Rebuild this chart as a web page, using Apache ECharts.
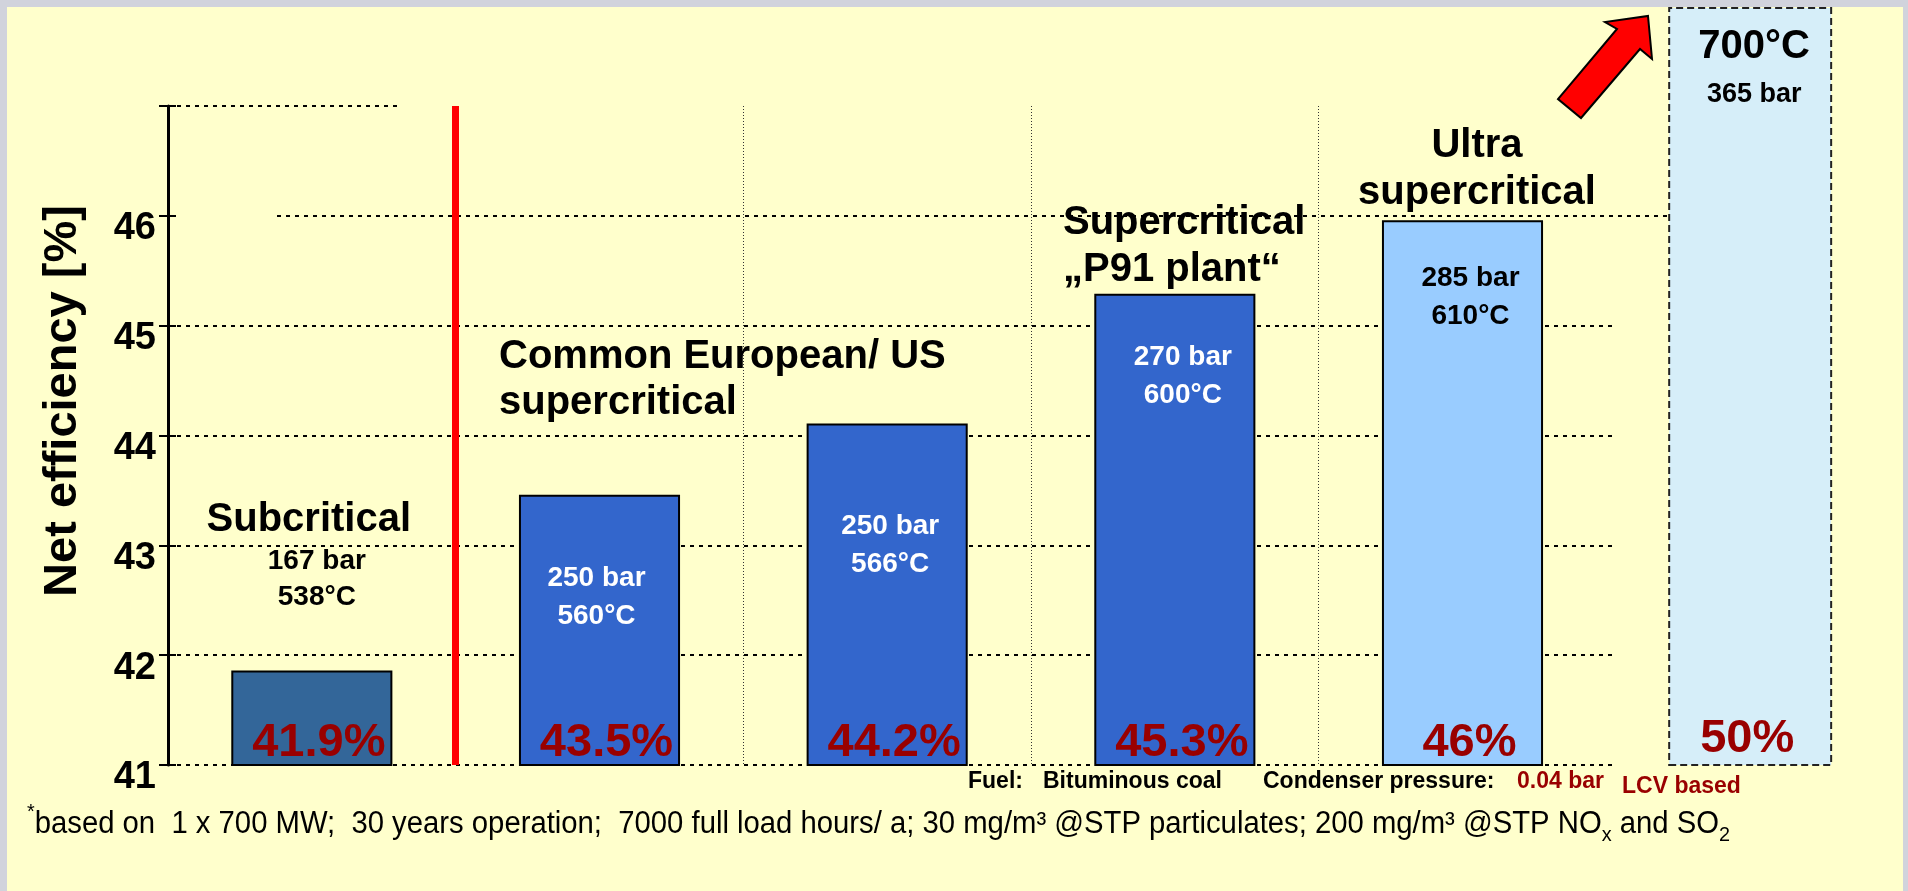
<!DOCTYPE html>
<html><head><meta charset="utf-8">
<script src="https://cdn.jsdelivr.net/npm/echarts@6/dist/echarts.min.js"></script>
<style>html,body{margin:0;padding:0;background:#FFFFCC;}#c{width:1908px;height:891px;}</style>
</head><body><div id="c"></div>
<script>
// ---------------- data ----------------
const categories = ['Subcritical', 'Common European/ US supercritical (560°C)', 'Common European/ US supercritical (566°C)', 'Supercritical „P91 plant“', 'Ultra supercritical', '700°C'];
const efficiency = [41.86, 43.46, 44.11, 45.29, 45.96, 50];
const efficiencyLabels = ['41.9%', '43.5%', '44.2%', '45.3%', '46%', '50%'];
const pressures = ['167 bar', '250 bar', '250 bar', '270 bar', '285 bar', '365 bar'];
const temperatures = ['538°C', '560°C', '566°C', '600°C', '610°C', '700°C'];
const yTicks = [41, 42, 43, 44, 45, 46, 47];
const separatorAfter = 1; // red line between subcritical and supercritical

// ---------------- styles ----------------
const F = '"Liberation Sans", Arial, sans-serif';
const barColors = ['#336699', '#3366CC', '#3366CC', '#3366CC', '#99CCFF'];
const condColors = ['#000', '#fff', '#fff', '#fff', '#000'];
const condDist = [55, 64, 84, 44, 39];
const condOffX = [5, -3, 3, 8, 8];
const DARKRED = '#990000';
const T = 'rgba(0,0,0,0)';
const DOT = {width: 2, type: [4, 5]};

const chart = echarts.init(document.getElementById('c'), null, {renderer: 'canvas'});

const barData = efficiency.map((v, i) => {
  if (i >= barColors.length) return '-';
  const item = {value: v, itemStyle: {color: barColors[i]}};
  if (i === 0) {
    item.label = {
      position: 'top', distance: condDist[i], offset: [condOffX[i], 0],
      formatter: `{t|${categories[0]}}\n{c|${pressures[0]}}\n{c|${temperatures[0]}}`,
      rich: {
        t: {fontFamily: F, fontWeight: 'bold', fontSize: 40, lineHeight: 48, color: '#000', padding: [0, 16, 0, 0]},
        c: {fontFamily: F, fontWeight: 'bold', fontSize: 28, lineHeight: 36, color: '#000'}
      }
    };
  } else {
    item.label = {
      position: 'insideTop', distance: condDist[i], offset: [condOffX[i], 0],
      color: condColors[i],
      formatter: `${pressures[i]}\n${temperatures[i]}`
    };
  }
  return item;
});

const pctData = efficiency.map((v, i) => i === 5 ? {value: v, label: {offset: [-3, -4]}} : v);
const boxData = efficiency.map((v, i) => i === 5 ? v : '-');

// footnote: Arial-Narrow look obtained by horizontally compressing Liberation Sans
const footMain1 = 'based on  1 x 700 MW;  30 years operation;  7000 full load hours/ a; 30 mg/m³ @STP particulates; 200 mg/m³ @STP NO';
const footMain2 = ' and SO';
const ctx = document.createElement('canvas').getContext('2d');
ctx.font = '31px "Liberation Sans"';
let footW = ctx.measureText(footMain1 + footMain2).width;
ctx.font = '21px "Liberation Sans"';
footW += ctx.measureText('*x2').width;
const footScale = 1703 / footW;

const gray = '#D1D3DC';
const graphics = [
  {type: 'rect', shape: {x: 0, y: 0, width: 1908, height: 7}, style: {fill: gray}, z: 100},
  {type: 'rect', shape: {x: 0, y: 0, width: 7, height: 891}, style: {fill: gray}, z: 100},
  {type: 'rect', shape: {x: 1903, y: 0, width: 5, height: 891}, style: {fill: gray}, z: 100},
  // y axis title
  {type: 'text', x: 63, y: 401, rotation: Math.PI / 2, z: 100,
   style: {text: 'Net efficiency [%]', font: 'bold 47px ' + F, fill: '#000', align: 'center', verticalAlign: 'middle'}},
  // category titles
  {type: 'text', x: 499, y: 334, z: 100,
   style: {text: 'Common European/ US\nsupercritical', font: 'bold 40px ' + F, lineHeight: 46, fill: '#000', align: 'left', verticalAlign: 'top'}},
  {type: 'text', x: 1063, y: 199, z: 100,
   style: {text: 'Supercritical\n„P91 plant“', font: 'bold 40px ' + F, lineHeight: 47, fill: '#000', align: 'left', verticalAlign: 'top'}},
  {type: 'text', x: 1477, y: 122, z: 100,
   style: {text: 'Ultra\nsupercritical', font: 'bold 40px ' + F, lineHeight: 47, fill: '#000', align: 'center', verticalAlign: 'top'}},
  // arrow
  {type: 'polygon', z: 100,
   shape: {points: [[1648, 16], [1652, 59], [1640, 49], [1581, 118], [1558, 99], [1617, 29], [1605, 22]]},
   style: {fill: '#FF0000', stroke: '#000', lineWidth: 2}},
  // bottom notes
  {type: 'text', x: 968, y: 782, z: 100, style: {text: 'Fuel:', font: 'bold 23px ' + F, fill: '#000', verticalAlign: 'middle'}},
  {type: 'text', x: 1043, y: 782, z: 100, style: {text: 'Bituminous coal', font: 'bold 23px ' + F, fill: '#000', verticalAlign: 'middle'}},
  {type: 'text', x: 1263, y: 782, z: 100, style: {text: 'Condenser pressure:', font: 'bold 23px ' + F, fill: '#000', verticalAlign: 'middle'}},
  {type: 'text', x: 1517, y: 782, z: 100, style: {text: '0.04 bar', font: 'bold 23px ' + F, fill: DARKRED, verticalAlign: 'middle'}},
  {type: 'text', x: 1622, y: 787, z: 100, style: {text: 'LCV based', font: 'bold 23px ' + F, fill: DARKRED, verticalAlign: 'middle'}},
  // footnote
  {type: 'text', x: 27, y: 824, scaleX: footScale, z: 100,
   style: {
     text: '{sup|*}{b|' + footMain1 + '}{sub|x}{b|' + footMain2 + '}{sub|2}',
     font: '31px ' + F, fill: '#000', verticalAlign: 'middle',
     rich: {
       b: {fontFamily: F, fontSize: 31, lineHeight: 44, color: '#000'},
       sup: {fontFamily: F, fontSize: 21, lineHeight: 44, verticalAlign: 'top', color: '#000'},
       sub: {fontFamily: F, fontSize: 21, lineHeight: 44, verticalAlign: 'bottom', color: '#000'}
     }
   }}
];

const yMin = yTicks[0], yMax = yTicks[yTicks.length - 1];
// helper for grids that only carry (partial) horizontal grid lines
const gridLineAxis = (g, colors, showMax) => ({
  type: 'value', gridIndex: g, min: yMin, max: yMax, interval: 1, position: 'left',
  axisLine: {show: false}, axisTick: {show: false}, axisLabel: {show: false},
  splitLine: {show: true, showMaxLine: showMax, lineStyle: Object.assign({color: colors}, DOT)}
});

const option = {
  backgroundColor: '#FFFFCC',
  animation: false,
  grid: [
    {left: 168, right: 14, top: 106, bottom: 126},   // 0: bars
    {left: 168, right: 14, top: 8, bottom: 126},     // 1: 700°C box
    {left: 168, right: 292, top: 106, bottom: 126},  // 2: grid lines 41–45
    {left: 277, right: 240, top: 106, bottom: 126},  // 3: grid line 46
    {left: 168, right: 1508, top: 106, bottom: 126}  // 4: top line 47
  ],
  xAxis: [
    {type: 'category', gridIndex: 0, data: categories, boundaryGap: true,
     axisLine: {show: false}, axisTick: {show: false}, axisLabel: {show: false},
     splitLine: {show: true, interval: 0,
       lineStyle: {color: [T, T, '#333', '#333', '#333', T, T], width: 1, type: [1, 2]}}},
    {type: 'category', gridIndex: 1, data: categories, show: false},
    {type: 'value', gridIndex: 0, min: 0, max: categories.length, show: false},
    {type: 'value', gridIndex: 2, min: 0, max: 1, show: false},
    {type: 'value', gridIndex: 3, min: 0, max: 1, show: false},
    {type: 'value', gridIndex: 4, min: 0, max: 1, show: false}
  ],
  yAxis: [
    {type: 'value', gridIndex: 0, min: yMin, max: yMax, interval: 1, position: 'left',
     axisLine: {show: true, lineStyle: {color: '#000', width: 3}},
     axisTick: {show: true, length: 9, lineStyle: {color: '#000', width: 2}},
     axisLabel: {fontFamily: F, fontWeight: 'bold', fontSize: 38, color: '#000', margin: 12,
       verticalAlign: 'top', lineHeight: 26,
       formatter: v => (v === yMax ? '' : String(v))},
     splitLine: {show: false}},
    {type: 'value', gridIndex: 1, min: 41, max: 48, show: false},
    gridLineAxis(2, ['#000', '#000', '#000', '#000', '#000', T], false),
    gridLineAxis(3, [T, T, T, T, T, '#000'], false),
    gridLineAxis(4, [T, T, T, T, T, T, '#000'], true),
    // inner half of the cross-shaped ticks
    {type: 'value', gridIndex: 0, min: yMin, max: yMax, interval: 1, position: 'left',
     axisLine: {show: false}, axisLabel: {show: false}, splitLine: {show: false},
     axisTick: {show: true, inside: true, length: 8, lineStyle: {color: '#000', width: 2}}}
  ],
  series: [
    {name: 'efficiency', type: 'bar', xAxisIndex: 0, yAxisIndex: 0, barWidth: '56%', barGap: '-100%',
     clip: true, data: barData, z: 2,
     itemStyle: {borderColor: '#000', borderWidth: 2},
     label: {show: true, fontFamily: F, fontWeight: 'bold', fontSize: 28, lineHeight: 38, align: 'center'}},
    {name: 'box', type: 'bar', xAxisIndex: 1, yAxisIndex: 1, barWidth: '57%', clip: true, data: boxData, z: 1,
     itemStyle: {color: '#D6EEF9', borderColor: '#222', borderWidth: 2, borderType: [7, 4]},
     label: {show: true, position: 'insideTop', distance: 16, offset: [4, 0],
       formatter: () => `{t|${temperatures[5]}}\n{c|${pressures[5]}}`,
       rich: {
         t: {fontFamily: F, fontWeight: 'bold', fontSize: 40, lineHeight: 48, color: '#000'},
         c: {fontFamily: F, fontWeight: 'bold', fontSize: 27, lineHeight: 48, color: '#000'}
       }}},
    {name: 'pct', type: 'bar', xAxisIndex: 0, yAxisIndex: 0, barWidth: '56%', barGap: '-100%', clip: true,
     data: pctData, z: 5, silent: true,
     itemStyle: {color: T},
     label: {show: true, position: 'insideBottom', distance: 0, offset: [7, 0],
       fontFamily: F, fontWeight: 'bold', fontSize: 47, lineHeight: 44, color: DARKRED,
       formatter: p => efficiencyLabels[p.dataIndex]}},
    {name: 'separator', type: 'line', xAxisIndex: 2, yAxisIndex: 0, data: [[separatorAfter, yMin]],
     showSymbol: false, lineStyle: {width: 0}, silent: true,
     markLine: {silent: true, symbol: ['none', 'none'], label: {show: false},
       lineStyle: {color: '#FF0000', width: 7, type: 'solid'},
       data: [{xAxis: separatorAfter}]}}
  ],
  graphic: graphics
};
chart.setOption(option);
</script></body></html>
